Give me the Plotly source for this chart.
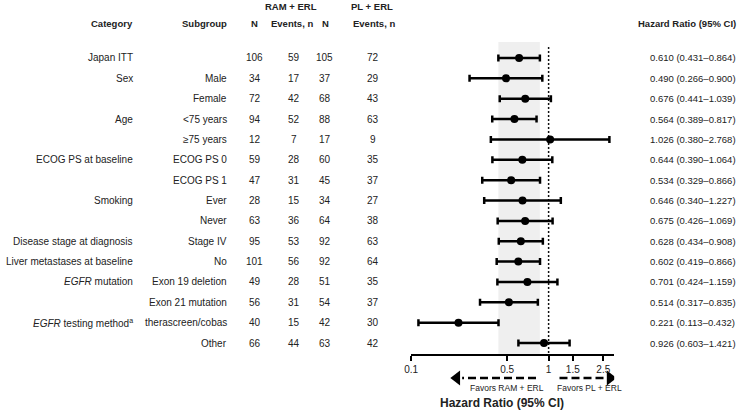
import plotly.graph_objects as go
import math

categories = ["Japan ITT", "Sex", "", "Age", "", "ECOG PS at baseline", "", "Smoking", "",
              "Disease stage at diagnosis", "Liver metastases at baseline",
              "<i>EGFR</i> mutation", "", "<i>EGFR</i> testing method<sup>a</sup>", ""]
subgroups = ["", "Male", "Female", "<75 years", "≥75 years", "ECOG PS 0", "ECOG PS 1", "Ever", "Never",
             "Stage IV", "No", "Exon 19 deletion", "Exon 21 mutation", "therascreen/cobas", "Other"]
ram_n = [106, 34, 72, 94, 12, 59, 47, 28, 63, 95, 101, 49, 56, 40, 66]
ram_events = [59, 17, 42, 52, 7, 28, 31, 15, 36, 53, 56, 28, 31, 15, 44]
pl_n = [105, 37, 68, 88, 17, 60, 45, 34, 64, 92, 92, 51, 54, 42, 63]
pl_events = [72, 29, 43, 63, 9, 35, 37, 27, 38, 63, 64, 35, 37, 30, 42]
hr = [0.610, 0.490, 0.676, 0.564, 1.026, 0.644, 0.534, 0.646, 0.675, 0.628, 0.602, 0.701, 0.514, 0.221, 0.926]
ci_lo = [0.431, 0.266, 0.441, 0.389, 0.380, 0.390, 0.329, 0.340, 0.426, 0.434, 0.419, 0.424, 0.317, 0.113, 0.603]
ci_hi = [0.864, 0.900, 1.039, 0.817, 2.768, 1.064, 0.866, 1.227, 1.069, 0.908, 0.866, 1.159, 0.835, 0.432, 1.421]
tick_vals = [0.1, 0.5, 1, 1.5, 2.5]
tick_text = ["0.1", "0.5", "1", "1.5", "2.5"]

W, H = 740, 413
FONT = "Liberation Sans, Arial, sans-serif"
TXT = "#222222"

def px(x):
    return x / W

def py(y):
    return 1 - y / H

ROW0, STEP = 58, 20.36
TOP_PX, BOT_PX, AXIS_PX = 42, 395, 355
y_top = (ROW0 - TOP_PX) / STEP
y_bot = -(BOT_PX - ROW0) / STEP
y_axis = -(AXIS_PX - ROW0) / STEP

n = len(hr)
ys = [-i for i in range(n)]

fig = go.Figure()

# shaded band = overall CI
fig.add_trace(go.Scatter(
    x=[ci_lo[0], ci_hi[0], ci_hi[0], ci_lo[0], ci_lo[0]],
    y=[y_top, y_top, y_axis, y_axis, y_top],
    fill="toself", fillcolor="#efefef", line=dict(width=0), mode="lines",
    hoverinfo="skip", showlegend=False))

# reference line at 1
fig.add_trace(go.Scatter(
    x=[1, 1], y=[y_top - 0.25, y_axis], mode="lines",
    line=dict(color="#111111", width=1.5, dash="2px,2px"),
    hoverinfo="skip", showlegend=False))

# points with CI
fig.add_trace(go.Scatter(
    x=hr, y=ys, mode="markers",
    marker=dict(color="black", size=8),
    error_x=dict(type="data", symmetric=False,
                 array=[h - v for h, v in zip(ci_hi, hr)],
                 arrayminus=[v - l for v, l in zip(hr, ci_lo)],
                 color="black", thickness=2.5, width=3.5),
    showlegend=False))

# favors arrows
arrow_y = -(378 - ROW0) / STEP
fig.add_trace(go.Scatter(x=[0.81, 0.235], y=[arrow_y, arrow_y], mode="lines",
                         line=dict(color="black", width=2.5, dash="8px,4px"),
                         hoverinfo="skip", showlegend=False))
fig.add_trace(go.Scatter(x=[0.215], y=[arrow_y], mode="markers",
                         marker=dict(symbol="triangle-left", size=13, color="black"),
                         hoverinfo="skip", showlegend=False))
fig.add_trace(go.Scatter(x=[1.2, 2.55], y=[arrow_y, arrow_y], mode="lines",
                         line=dict(color="black", width=2.5, dash="8px,4px"),
                         hoverinfo="skip", showlegend=False))
fig.add_trace(go.Scatter(x=[2.8], y=[arrow_y], mode="markers",
                         marker=dict(symbol="triangle-right", size=13, color="black"),
                         hoverinfo="skip", showlegend=False))

ann = []

def text(x, y, s, anchor="center", size=10, bold=False, yref="paper"):
    ann.append(dict(x=x, y=y, xref="paper", yref=yref, text=("<b>%s</b>" % s) if bold else s,
                    showarrow=False, xanchor=anchor, yanchor="middle",
                    font=dict(family=FONT, size=size, color=TXT)))

# headers
text(px(287), py(6), "RAM + ERL", bold=True, size=9.5)
text(px(368), py(6), "PL + ERL", bold=True, size=9.5)
text(px(129), py(23), "Category", "right", bold=True, size=9.5)
text(px(224), py(23), "Subgroup", "right", bold=True, size=9.5)
text(px(250), py(23), "N", bold=True, size=9.5)
text(px(288), py(23), "Events, n", bold=True, size=9.5)
text(px(322), py(23), "N", bold=True, size=9.5)
text(px(370), py(23), "Events, n", bold=True, size=9.5)
text(px(738), py(23), "Hazard Ratio (95% CI)", "right", bold=True, size=9.5)

for i in range(n):
    y = ys[i]
    if categories[i]:
        text(px(129), y, categories[i], "right", yref="y")
    if subgroups[i]:
        text(px(224), y, subgroups[i], "right", yref="y")
    text(px(250), y, str(ram_n[i]), yref="y")
    text(px(290), y, str(ram_events[i]), yref="y")
    text(px(321), y, str(pl_n[i]), yref="y")
    text(px(369), y, str(pl_events[i]), yref="y")
    text(px(647), y, "%.3f (%.3f–%.3f)" % (hr[i], ci_lo[i], ci_hi[i]), "left", size=9.5, yref="y")

text(px(505), py(388), "Favors RAM + ERL", size=8.5)
text(px(588), py(388), "Favors PL + ERL", size=8.5)
text(px(500), py(403), "Hazard Ratio (95% CI)", bold=True, size=12)

fig.update_layout(
    width=W, height=H, margin=dict(l=0, r=0, t=0, b=0),
    paper_bgcolor="white", plot_bgcolor="rgba(0,0,0,0)",
    annotations=ann, showlegend=False,
    xaxis=dict(type="log", range=[-1, math.log10(3)], domain=[px(408), px(613)],
               anchor="free", position=py(AXIS_PX),
               showgrid=False, zeroline=False, showline=True, linecolor="black", linewidth=2,
               ticks="outside", ticklen=5, tickwidth=2, tickcolor="black",
               tickvals=tick_vals, ticktext=tick_text,
               tickfont=dict(family=FONT, size=10, color=TXT)),
    yaxis=dict(range=[y_bot, y_top], domain=[py(BOT_PX), py(TOP_PX)],
               showgrid=False, zeroline=False, showline=False, showticklabels=False, ticks=""),
)

fig.write_html("out.html", config={"displayModeBar": False},
               post_script="document.body.style.margin='0px';document.body.style.padding='0px';")
